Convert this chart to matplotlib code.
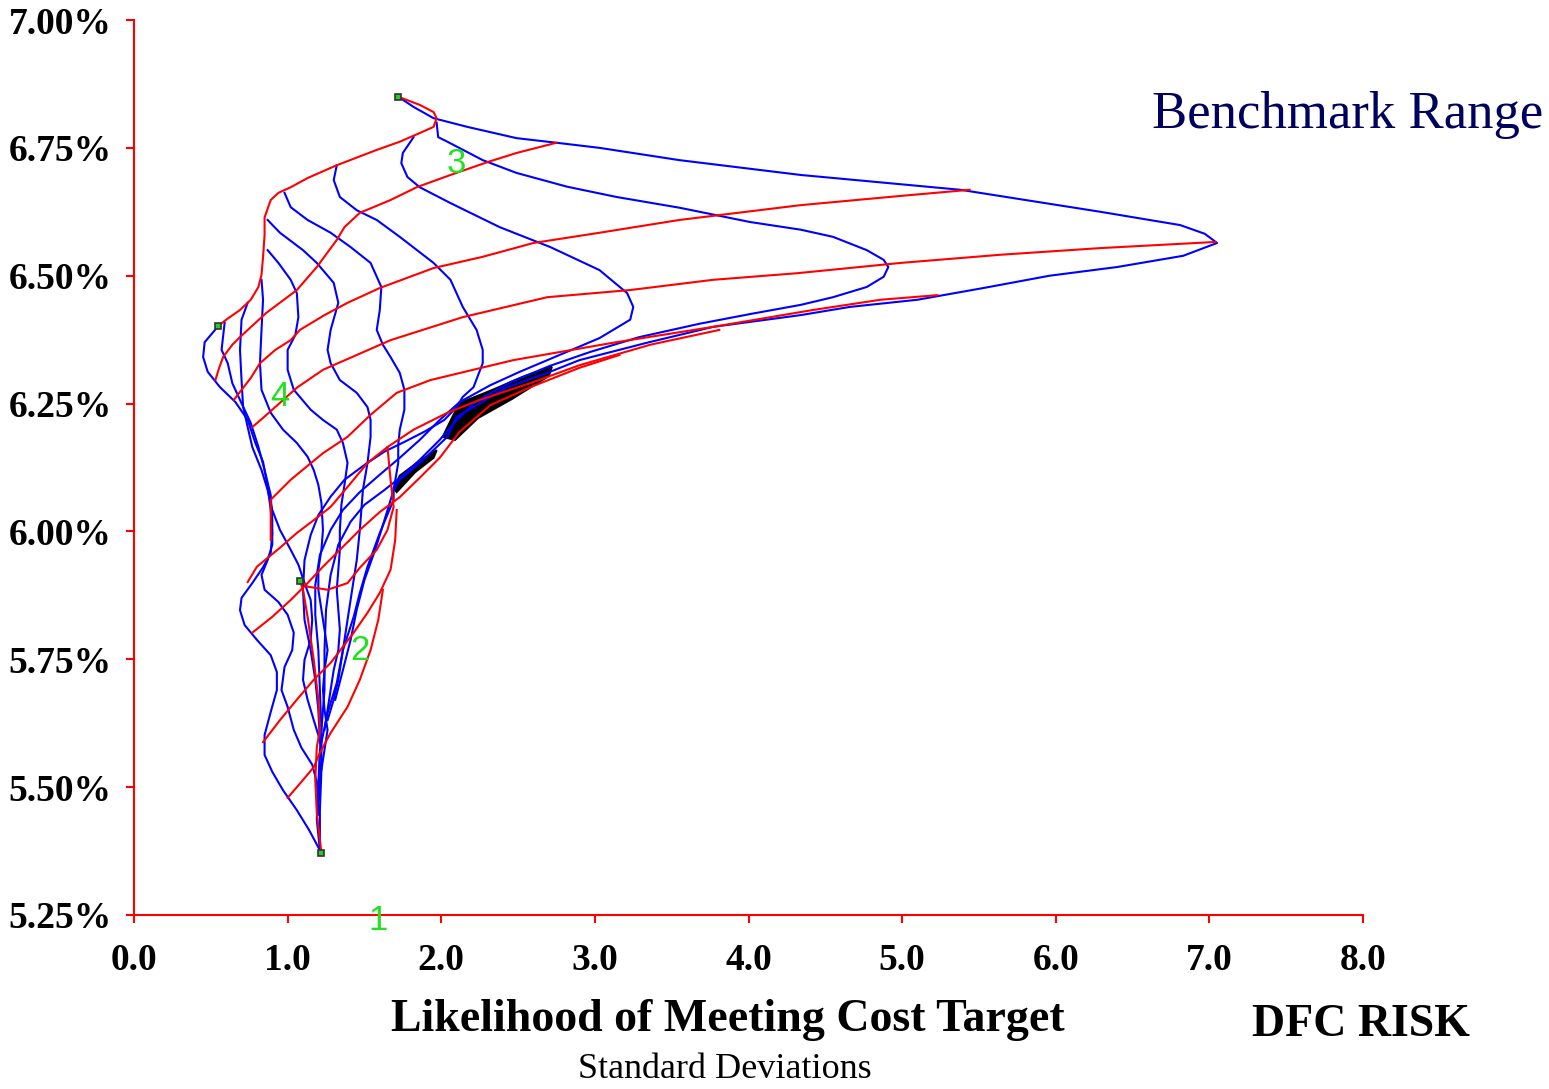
import matplotlib
matplotlib.use("Agg")
import matplotlib.pyplot as plt
from matplotlib.ticker import FixedLocator, FuncFormatter

# ---------------- data (x = std deviations, y = %) ----------------
# blue curves
B0_X = [0.55,0.46,0.45,0.48,0.56,0.66,0.74,0.79,0.84,0.87,0.89,0.90,0.89,0.84,0.77,0.70,0.69,0.72,0.80,0.89,0.93,0.93,0.89,0.85,0.85,0.90,0.97,1.06,1.14,1.22]
B0_Y = [6.402,6.370,6.341,6.312,6.282,6.253,6.218,6.173,6.136,6.087,6.042,5.997,5.958,5.930,5.899,5.870,5.846,5.817,5.788,5.758,5.725,5.690,5.647,5.602,5.563,5.530,5.494,5.455,5.416,5.371]
B1_X = [0.59,0.57,0.61,0.64,0.69,0.76,0.81,0.85,0.89,0.90,0.90,0.87,0.83,0.85,0.94,1.00,1.04,1.03,0.98,0.96,1.00,1.04,1.09,1.16,1.19,1.20,1.20]
B1_Y = [6.408,6.355,6.329,6.290,6.257,6.212,6.165,6.120,6.071,6.022,5.974,5.944,5.915,5.886,5.862,5.837,5.802,5.768,5.735,5.690,5.657,5.612,5.577,5.544,5.510,5.475,5.446]
B2_X = [0.74,0.70,0.69,0.70,0.71,0.74,0.77,0.83,0.87,0.90,0.95,1.02,1.07,1.11,1.15,1.16,1.15,1.11,1.10,1.13,1.17,1.21,1.22,1.21,1.21]
B2_Y = [6.447,6.414,6.355,6.296,6.244,6.204,6.165,6.120,6.081,6.042,6.003,5.964,5.935,5.899,5.866,5.827,5.788,5.749,5.710,5.671,5.631,5.592,5.553,5.514,5.475]
B3_X = [0.83,0.84,0.83,0.82,0.83,0.89,0.97,1.06,1.13,1.17,1.20,1.22,1.23,1.22,1.20,1.20,1.22,1.24,1.26,1.24,1.23,1.24,1.26,1.24,1.22]
B3_Y = [6.492,6.453,6.394,6.329,6.277,6.232,6.199,6.173,6.146,6.120,6.091,6.056,6.003,5.964,5.925,5.886,5.847,5.808,5.768,5.729,5.690,5.651,5.612,5.573,5.534]
B4_X = [0.87,0.94,1.02,1.06,1.07,1.05,1.00,1.00,1.04,1.15,1.23,1.32,1.36,1.39,1.37,1.35,1.34,1.34,1.33,1.32,1.33,1.34,1.33,1.30,1.28,1.26,1.24]
B4_Y = [6.550,6.525,6.492,6.466,6.419,6.384,6.355,6.316,6.277,6.238,6.218,6.199,6.173,6.134,6.091,6.052,6.003,5.964,5.925,5.886,5.847,5.808,5.768,5.729,5.690,5.651,5.612]
B5_X = [0.87,0.95,1.10,1.19,1.30,1.33,1.28,1.26,1.28,1.34,1.45,1.52,1.54,1.54,1.52,1.49,1.47,1.45,1.42,1.39,1.36,1.33,1.30,1.26]
B5_Y = [6.609,6.584,6.550,6.525,6.486,6.447,6.394,6.355,6.329,6.296,6.271,6.243,6.218,6.185,6.134,6.081,6.003,5.944,5.886,5.827,5.768,5.710,5.671,5.631]
B6_X = [0.98,1.02,1.13,1.28,1.41,1.54,1.61,1.60,1.58,1.62,1.67,1.73,1.76,1.76,1.73,1.72,1.72,1.69,1.63,1.57,1.50,1.45,1.41,1.36,1.31]
B6_Y = [6.662,6.634,6.609,6.584,6.556,6.525,6.478,6.433,6.394,6.365,6.341,6.310,6.277,6.238,6.199,6.169,6.134,6.081,6.022,5.964,5.905,5.847,5.788,5.729,5.671]
B7_X = [1.32,1.30,1.34,1.45,1.58,1.73,1.95,2.06,2.14,2.23,2.27,2.27,2.21,2.14,2.10,2.02,1.89,1.76,1.63,1.50,1.37,1.28,1.20,1.15,1.11,1.10,1.11,1.15,1.18,1.20,1.21]
B7_Y = [6.716,6.687,6.654,6.628,6.609,6.576,6.525,6.492,6.439,6.394,6.355,6.329,6.282,6.263,6.243,6.218,6.195,6.175,6.156,6.130,6.101,6.068,6.032,5.993,5.944,5.886,5.827,5.768,5.710,5.651,5.592]
B8_X = [1.82,1.75,1.74,1.78,1.86,2.06,2.38,2.71,3.03,3.21,3.25,3.23,3.03,2.77,2.51,2.32,2.12,1.99,1.86,1.73,1.60,1.47,1.36,1.28,1.21,1.18,1.18,1.20,1.21,1.22]
B8_Y = [6.771,6.740,6.720,6.693,6.673,6.642,6.595,6.556,6.511,6.466,6.439,6.414,6.378,6.345,6.312,6.286,6.253,6.218,6.179,6.144,6.111,6.077,6.042,6.003,5.954,5.895,5.837,5.768,5.690,5.612]
B9_X = [1.97,1.98,2.04,2.27,2.49,2.82,3.14,3.55,4.01,4.34,4.55,4.77,4.88,4.91,4.88,4.77,4.55,4.34,4.01,3.68,3.29,2.97,2.71,2.45,2.22,2.09,1.99,1.86,1.74,1.63,1.50,1.41,1.33,1.28,1.25,1.24,1.24,1.22,1.22,1.21,1.21]
B9_Y = [6.799,6.771,6.762,6.726,6.701,6.674,6.654,6.633,6.605,6.590,6.576,6.550,6.531,6.517,6.498,6.478,6.458,6.443,6.425,6.406,6.380,6.351,6.324,6.292,6.253,6.214,6.179,6.140,6.107,6.081,6.052,6.019,5.974,5.915,5.847,5.768,5.690,5.612,5.534,5.455,5.397]
B10_X = [1.72,1.82,1.95,2.17,2.49,2.75,3.03,3.55,4.34,5.38,6.29,6.81,6.97,7.05,6.83,6.40,5.96,5.53,5.10,4.66,4.34,3.77,3.34,2.90,2.69,2.43,2.21,2.10,2.04,1.97,1.86,1.73,1.69,1.69,1.60,1.52,1.47,1.43,1.36,1.32,1.26,1.21,1.20,1.19,1.21]
B10_Y = [6.850,6.830,6.808,6.791,6.769,6.760,6.750,6.726,6.697,6.668,6.625,6.599,6.582,6.564,6.539,6.517,6.500,6.476,6.453,6.439,6.423,6.400,6.369,6.335,6.310,6.282,6.243,6.224,6.185,6.165,6.134,6.101,6.081,6.062,5.997,5.931,5.880,5.833,5.768,5.704,5.645,5.573,5.508,5.436,5.377]

# red curves
R0_X = [0.55,0.60,0.69,0.76,0.81,0.83,0.84,0.85,0.85,0.89,0.94,1.02,1.13,1.32,1.58,1.73,1.86,1.95,1.97,1.95,1.86,1.72]
R0_Y = [6.402,6.414,6.433,6.453,6.478,6.502,6.536,6.580,6.614,6.648,6.662,6.673,6.691,6.716,6.746,6.762,6.779,6.791,6.808,6.820,6.834,6.850]
R1_X = [0.53,0.55,0.58,0.64,0.69,0.86,1.06,1.19,1.32,1.37,1.47,1.67,1.84,2.06,2.30,2.49,2.75]
R1_Y = [6.296,6.316,6.341,6.365,6.380,6.427,6.472,6.517,6.570,6.595,6.623,6.648,6.673,6.697,6.722,6.740,6.760]
R2_X = [0.65,0.69,0.76,0.82,0.92,1.02,1.08,1.24,1.39,1.60,1.95,2.27,2.60,3.03,3.55,4.34,4.99,5.44]
R2_Y = [6.257,6.273,6.300,6.329,6.355,6.374,6.394,6.423,6.447,6.476,6.515,6.537,6.564,6.584,6.609,6.638,6.656,6.668]
R3_X = [0.77,0.84,0.90,1.06,1.23,1.45,1.67,2.14,2.69,3.23,3.77,4.32,4.99,5.64,6.29,7.04]
R3_Y = [6.204,6.222,6.238,6.281,6.316,6.345,6.374,6.419,6.458,6.472,6.492,6.505,6.525,6.541,6.554,6.566]
R4_X = [0.89,0.89,0.89,1.02,1.23,1.39,1.54,1.71,1.93,2.47,3.12,3.77,4.42,4.86,5.23]
R4_Y = [5.983,6.022,6.062,6.101,6.153,6.185,6.228,6.271,6.296,6.335,6.369,6.400,6.433,6.453,6.462]
R5_X = [0.74,0.80,0.95,1.06,1.17,1.28,1.39,1.52,1.65,1.82,2.04,2.25,2.58,2.90,3.36,3.81]
R5_Y = [5.901,5.931,5.968,5.997,6.022,6.048,6.087,6.134,6.165,6.199,6.232,6.257,6.290,6.325,6.365,6.394]
R6_X = [0.77,0.90,1.02,1.13,1.23,1.34,1.47,1.60,1.73,1.86,1.99,2.12,2.32,2.58,2.90,3.16]
R6_Y = [5.802,5.833,5.866,5.899,5.931,5.964,6.003,6.038,6.067,6.105,6.144,6.195,6.247,6.282,6.320,6.345]
R7_X = [0.84,0.95,1.06,1.17,1.28,1.43,1.52,1.60,1.67,1.70,1.71]
R7_Y = [5.588,5.631,5.671,5.710,5.743,5.802,5.841,5.880,5.925,5.983,6.042]
R8_X = [1.00,1.10,1.17,1.21,1.28,1.39,1.47,1.54,1.59,1.62]
R8_Y = [5.479,5.514,5.539,5.567,5.606,5.657,5.710,5.768,5.827,5.886]
R9_X = [1.22,1.19,1.18,1.19,1.21,1.20,1.17,1.13,1.10,1.08,1.13,1.26,1.39,1.47,1.58,1.65,1.69,1.67,1.65]
R9_Y = [5.371,5.450,5.514,5.578,5.612,5.671,5.749,5.833,5.886,5.904,5.892,5.886,5.899,5.929,5.964,6.003,6.048,6.101,6.165]

# dense (black) overlap zones
FOLD_UP_X = [2.01,2.07,2.12,2.32,2.53,2.72,2.70,2.46,2.24,2.09]
FOLD_UP_Y = [6.185,6.222,6.251,6.275,6.302,6.322,6.304,6.259,6.222,6.179]
FOLD_LO_X = [1.69,1.73,1.86,1.97,1.95,1.83,1.71]
FOLD_LO_Y = [6.085,6.109,6.138,6.159,6.144,6.116,6.077]

# corner markers and labels
CORNER_X = [1.22, 1.08, 1.72, 0.55]
CORNER_Y = [5.371, 5.904, 6.850, 6.402]
LABELS = ["1", "2", "3", "4"]
LABEL_X = [1.59, 1.47, 2.10, 0.95]
LABEL_Y = [5.240, 5.768, 6.720, 6.263]

X_TICKS = [0.0, 1.0, 2.0, 3.0, 4.0, 5.0, 6.0, 7.0, 8.0]
Y_TICKS = [5.25, 5.50, 5.75, 6.00, 6.25, 6.50, 6.75, 7.00]

BLUE = [(B0_X, B0_Y), (B1_X, B1_Y), (B2_X, B2_Y), (B3_X, B3_Y), (B4_X, B4_Y),
        (B5_X, B5_Y), (B6_X, B6_Y), (B7_X, B7_Y), (B8_X, B8_Y), (B9_X, B9_Y),
        (B10_X, B10_Y)]
RED = [(R0_X, R0_Y), (R1_X, R1_Y), (R2_X, R2_Y), (R3_X, R3_Y), (R4_X, R4_Y),
       (R5_X, R5_Y), (R6_X, R6_Y), (R7_X, R7_Y), (R8_X, R8_Y), (R9_X, R9_Y)]

# ---------------- figure ----------------
SERIF = ["Liberation Serif", "DejaVu Serif"]
fig = plt.figure(figsize=(15.49, 10.89), dpi=100)
ax = fig.add_axes([134/1549, 1-915/1089, (1363-134)/1549, (915-20)/1089])

for xs, ys in BLUE:
    ax.plot(xs, ys, color="#0000ff", lw=1.5, solid_joinstyle="round")
for xs, ys in RED:
    ax.plot(xs, ys, color="#ff0000", lw=1.5, solid_joinstyle="round")

ax.fill(FOLD_UP_X, FOLD_UP_Y, color="black", lw=1.5, ec="black")
ax.fill(FOLD_LO_X, FOLD_LO_Y, color="black", lw=1.5, ec="black")

ax.plot(CORNER_X, CORNER_Y, ls="none", marker="s", ms=5, mfc="#22cc22",
        mec="#333333", mew=1.2, zorder=5)
for t, x, y in zip(LABELS, LABEL_X, LABEL_Y):
    ax.text(x, y, t, color="#22e022", fontsize=25, ha="center", va="center",
            family=["Liberation Sans", "DejaVu Sans"], clip_on=False)

ax.set_xlim(0, 8)
ax.set_ylim(5.25, 7.00)
for s in ["top", "right"]:
    ax.spines[s].set_visible(False)
for s in ["left", "bottom"]:
    ax.spines[s].set_color("#ff0000")
    ax.spines[s].set_linewidth(1.5)

ax.xaxis.set_major_locator(FixedLocator(X_TICKS))
ax.yaxis.set_major_locator(FixedLocator(Y_TICKS))
ax.xaxis.set_major_formatter(FuncFormatter(lambda v, p: f"{v:.1f}"))
ax.yaxis.set_major_formatter(FuncFormatter(lambda v, p: f"{v:.2f}%"))
ax.tick_params(axis="both", colors="#ff0000", length=6, width=1.5,
               direction="out", labelcolor="black")
ax.tick_params(axis="x", pad=14)
ax.tick_params(axis="y", pad=10)
for lab in ax.get_xticklabels() + ax.get_yticklabels():
    lab.set_fontfamily(SERIF)
    lab.set_fontweight("bold")
    lab.set_fontsize(27)

fig.text(728/1549, 1-1020/1089, "Likelihood of Meeting Cost Target",
         family=SERIF, weight="bold", fontsize=33, ha="center", va="center")
fig.text(725/1549, 1-1070/1089, "Standard Deviations",
         family=SERIF, fontsize=26, ha="center", va="center")
fig.text(1361/1549, 1-1025/1089, "DFC RISK",
         family=SERIF, weight="bold", fontsize=33, ha="center", va="center")
fig.text(1348/1549, 1-115/1089, "Benchmark Range",
         family=SERIF, fontsize=38, color="#00005e", ha="center", va="center")

fig.savefig("out.png", dpi=100, facecolor="white")
